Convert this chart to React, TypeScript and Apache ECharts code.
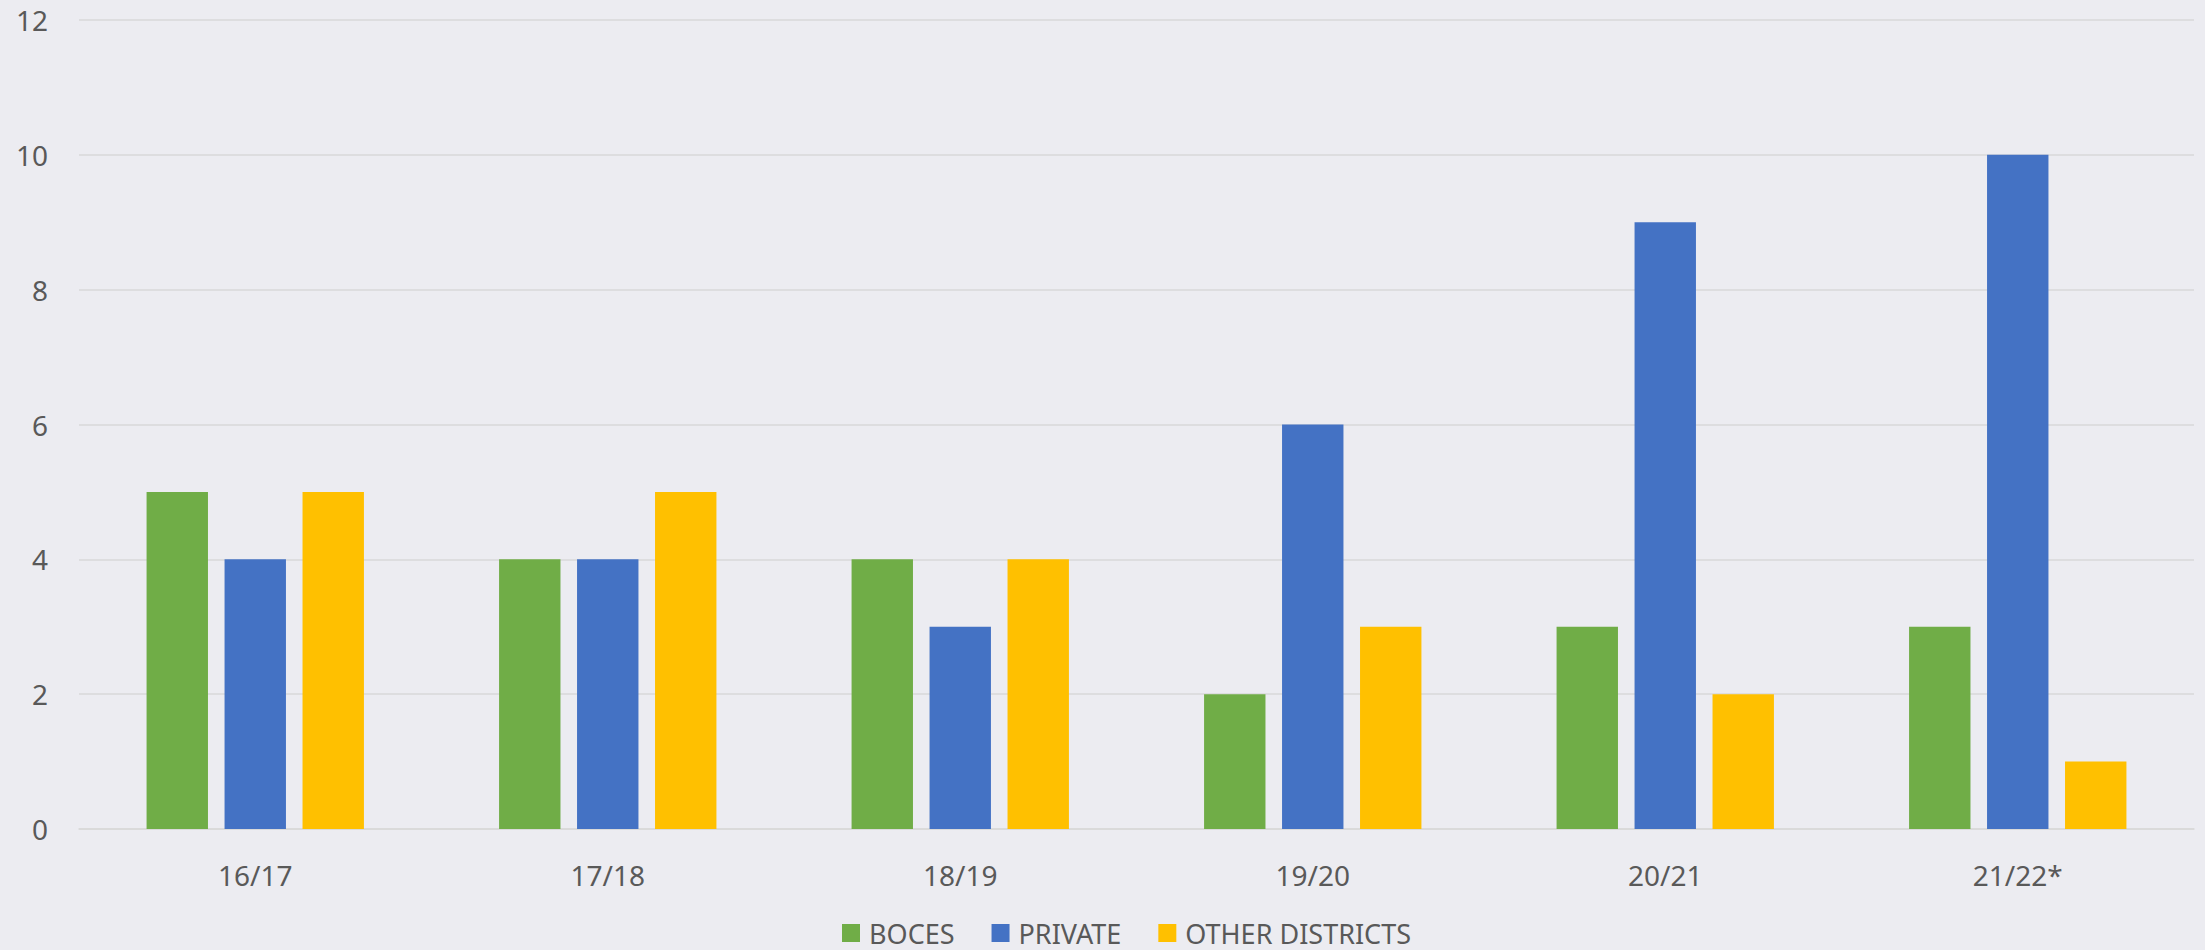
import React, { useEffect, useRef } from "react";
import * as echarts from "echarts";

const categories = ["16/17", "17/18", "18/19", "19/20", "20/21", "21/22*"];
const seriesNames = ["BOCES", "PRIVATE", "OTHER DISTRICTS"];
const boces = [5, 4, 4, 2, 3, 3];
const privateVals = [4, 4, 3, 6, 9, 10];
const otherDistricts = [5, 5, 4, 3, 2, 1];
const colors = ["#70AD47", "#4472C4", "#FFC000"];

const FONT = "'Noto Sans', 'Open Sans', sans-serif";
const TEXT = "#595959";

export default function App() {
  const ref = useRef<HTMLDivElement>(null);
  useEffect(() => {
    if (!ref.current) return;
    const chart = echarts.init(ref.current, undefined, { renderer: "svg" });
    const values = [boces, privateVals, otherDistricts];
    chart.setOption({
      animation: false,
      backgroundColor: "#ECECF1",
      textStyle: { fontFamily: FONT },
      grid: { left: 79, right: 11, top: 20, bottom: 121, containLabel: false },
      legend: {
        top: 912,
        left: 837,
        itemWidth: 18,
        itemHeight: 18,
        itemGap: 37,
        icon: "rect",
        textStyle: { color: TEXT, fontSize: 27, lineHeight: 32, fontFamily: FONT, padding: [0, 0, 0, 4] },
        data: seriesNames,
      },
      xAxis: {
        type: "category",
        data: categories,
        axisLine: { show: true, lineStyle: { color: "#D9D9D9", width: 1.5 } },
        axisTick: { show: false },
        axisLabel: { color: TEXT, fontSize: 28, margin: 32, fontFamily: FONT },
      },
      yAxis: {
        type: "value",
        min: 0,
        max: 12,
        interval: 2,
        axisLine: { show: false },
        axisTick: { show: false },
        axisLabel: { color: TEXT, fontSize: 28, margin: 31, fontFamily: FONT },
        splitLine: { lineStyle: { color: "#D9D9D9", width: 1.5 } },
      },
      series: seriesNames.map((name, i) => ({
        name,
        type: "bar",
        data: values[i],
        barWidth: 61.4,
        barGap: "27%",
        itemStyle: { color: colors[i] },
      })),
    });
    return () => chart.dispose();
  }, []);
  return (
    <div
      ref={ref}
      style={{ position: "fixed", left: 0, top: 0, width: 2205, height: 950 }}
    />
  );
}
